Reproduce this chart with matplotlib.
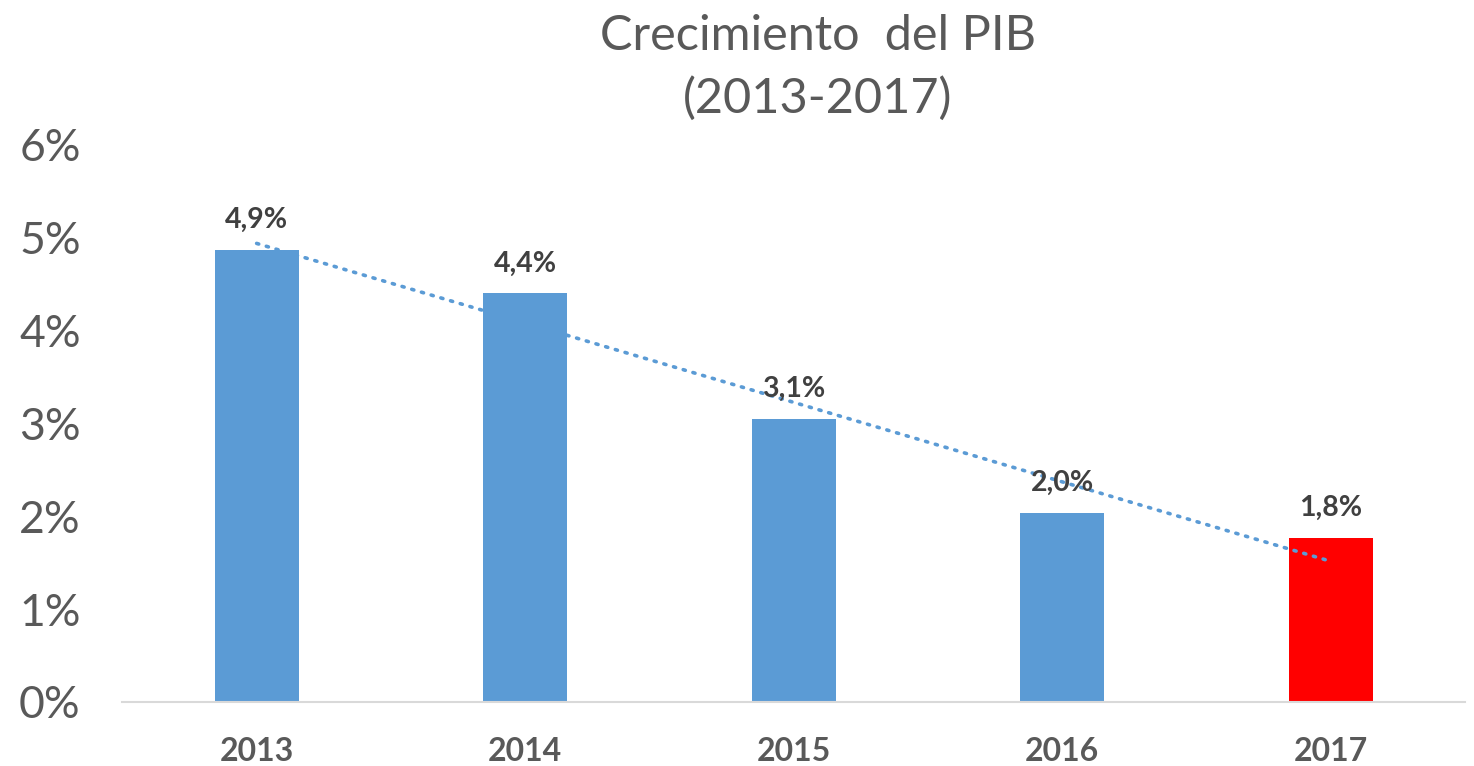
import matplotlib.pyplot as plt
import numpy as np

# Data
years = ["2013", "2014", "2015", "2016", "2017"]
growth = [4.87, 4.40, 3.05, 2.04, 1.77]
labels = ["4,9%", "4,4%", "3,1%", "2,0%", "1,8%"]
colors = ["#5b9bd5", "#5b9bd5", "#5b9bd5", "#5b9bd5", "#ff0000"]
yticks = [0, 1, 2, 3, 4, 5, 6]

plt.rcParams['font.family'] = ['Lato', 'DejaVu Sans']

fig = plt.figure(figsize=(14.74, 7.66), dpi=100)
ax = fig.add_axes([0.083, 0.0836, 0.911, 0.7274])

x = np.arange(len(years))
ax.bar(x, growth, width=0.313, color=colors, zorder=2)

# linear trend line
coef = np.polyfit(x, growth, 1)
ax.plot(x, np.polyval(coef, x), linestyle=(0, (0.6, 2.2)), color="#5b9bd5",
        linewidth=2.6, dash_capstyle='round', zorder=3)

for xi, v, lab in zip(x, growth, labels):
    ax.annotate(lab, (xi, v), xytext=(0, 12), textcoords="offset points",
                ha="center", va="bottom", fontsize=20.5, fontweight="bold",
                color="#404040", zorder=4)

ax.set_xlim(-0.5, 4.5)
ax.set_ylim(0, 6)
ax.set_xticks(x)
ax.set_xticklabels(years, fontsize=23, fontweight="bold", color="#595959")
ax.set_yticks(yticks)
ax.set_yticklabels([f"{t}%" for t in yticks], fontsize=32, color="#595959")
ax.tick_params(axis="both", length=0)
ax.tick_params(axis="x", pad=25)
ax.tick_params(axis="y", pad=30)

for s in ["top", "right", "left"]:
    ax.spines[s].set_visible(False)
ax.spines["bottom"].set_color("#d9d9d9")
ax.spines["bottom"].set_linewidth(1.5)

fig.text(0.555, 0.953, "Crecimiento  del PIB", ha="center", va="center",
         fontsize=35, color="#595959")
fig.text(0.555, 0.871, "(2013-2017)", ha="center", va="center",
         fontsize=35, color="#595959")

fig.savefig("out.png", dpi=100)
